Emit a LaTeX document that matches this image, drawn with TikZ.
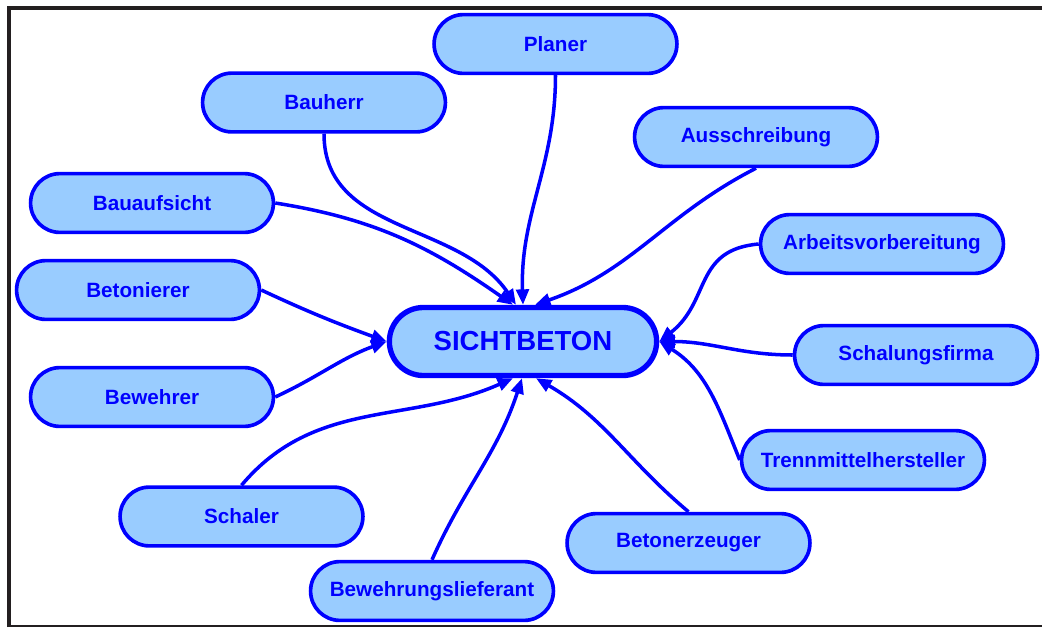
\documentclass[tikz,border=0pt]{standalone}
\usepackage{fontspec}
\setmainfont{Liberation Sans}
\usepackage{xcolor}
\usepackage{tikz}
\usetikzlibrary{arrows.meta, calc}
\definecolor{boxfill}{HTML}{99CCFF}
\definecolor{framegray}{HTML}{231F20}

\begin{document}
\begin{tikzpicture}[x=0.025cm, y=-0.025cm,
    box/.style={draw=blue, fill=boxfill, line width=2.6pt, rounded corners=0.735cm,
      minimum width=6.07cm, minimum height=1.47cm, text=blue,
      font=\bfseries\fontsize{14.7}{17}\selectfont},
    hub/.style={box, line width=3.8pt, rounded corners=0.85cm,
      minimum width=6.68cm, minimum height=1.7cm,
      font=\bfseries\fontsize{19.6}{23}\selectfont},
    link/.style={draw=blue, line width=2.5pt, -{Triangle[length=11pt, width=9pt]}}]
    \useasboundingbox (0,0) rectangle (1042,627);
    \draw[framegray, line width=2.6pt] (9.2,627) -- (9.2,8.3) -- (1042,8.3);
    \draw[framegray, line width=0.8pt] (9.2,626) -- (1042,626);

    \node(S) at (523,341.5) [hub] {SICHTBETON};
    \node(Planer) at (555.5,44) [box] {Planer};
    \node(Bauherr) at (324,102.5) [box] {Bauherr};
    \node(Ausschreibung) at (756,137) [box] {Ausschreibung};
    \node(Bauaufsicht) at (152,203) [box] {Bauaufsicht};
    \node(Arbeitsvorbereitung) at (882,244) [box] {Arbeitsvorbereitung};
    \node(Betonierer) at (138,290) [box] {Betonierer};
    \node(Schalungsfirma) at (916,355) [box] {Schalungsfirma};
    \node(Bewehrer) at (152,397) [box] {Bewehrer};
    \node(Trennmittelhersteller) at (863,460) [box] {Trennmittelhersteller};
    \node(Schaler) at (241.5,516.5) [box] {Schaler};
    \node(Betonerzeuger) at (688.5,543) [box] {Betonerzeuger};
    \node(Bewehrungslieferant) at (432,591) [box] {Bewehrungslieferant};

    % oben
    \draw[link] (Bauaufsicht.east) to[out=-9, in=145] ($(S.north)+(-10,0)$);
    \draw[link] (Bauherr.south) to[out=-90, in=124] ($(S.north)+(-7,0)$);
    \draw[link] (Planer.south) to[out=-90, in=92] (S.north);
    \draw[link] (Ausschreibung.south) to[out=207, in=19] ($(S.north)+(12,0)$);
    % links
    \draw[link] (Betonierer.east) to[out=-25, in=160] (S.west);
    \draw[link] (Bewehrer.east) to[out=25, in=-160] (S.west);
    % rechts
    \draw[link] (Arbeitsvorbereitung.west) to[out=185, in=38, looseness=1.2] (S.east);
    \draw[link] (Schalungsfirma.west) to[out=180, in=0] (S.east);
    \draw[link] (Trennmittelhersteller.west) to[out=112, in=-32] (S.east);
    % unten
    \draw[link] (Schaler.north) to[out=50, in=-156] ($(S.south)+(-10,0)$);
    \draw[link] (Bewehrungslieferant.north) to[out=66, in=-108] ($(S.south)+(-1,0)$);
    \draw[link] (Betonerzeuger.north) to[out=140, in=-30] ($(S.south)+(13,0)$);
  \end{tikzpicture}
\end{document}
